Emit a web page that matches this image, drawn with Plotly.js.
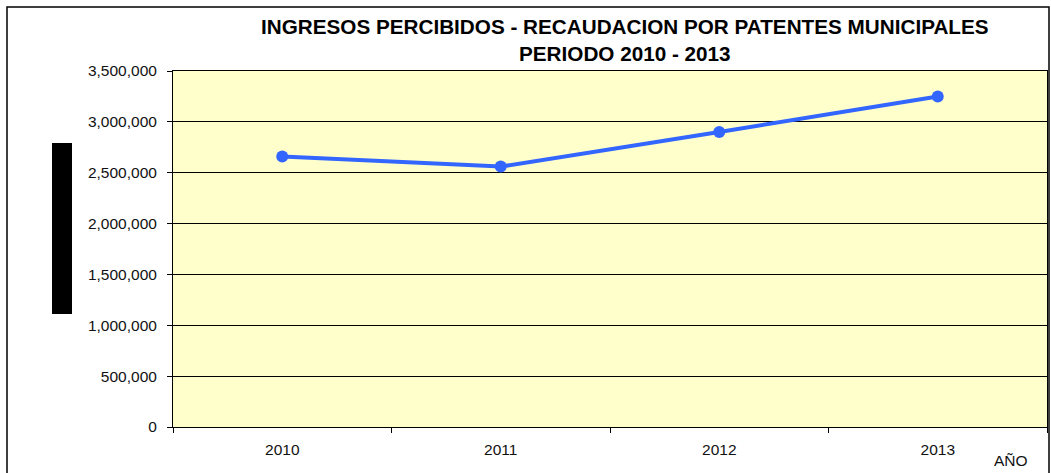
<!DOCTYPE html>
<html>
<head>
<meta charset="utf-8">
<script src="https://cdn.plot.ly/plotly-3.0.1.min.js"></script>
<style>html,body{margin:0;padding:0;background:#fff;}#chart{width:1051px;height:473px;}</style>
</head>
<body>
<div id="chart"></div>
<script>
const years = ['2010', '2011', '2012', '2013'];
const ingresos = [2660000, 2560000, 2900000, 3250000];
const yTicks = [0, 500000, 1000000, 1500000, 2000000, 2500000, 3000000, 3500000];
const yTickLabels = ['0', '500,000', '1,000,000', '1,500,000', '2,000,000', '2,500,000', '3,000,000', '3,500,000'];
const titleLine1 = 'INGRESOS PERCIBIDOS - RECAUDACION POR PATENTES MUNICIPALES';
const titleLine2 = 'PERIODO 2010 - 2013';
const xLabel = 'AÑO';

const font = 'Liberation Sans, Arial, sans-serif';
const px = v => (v - 173) / 874;
const py = v => (427 - v) / 356;

const trace = {
  type: 'scatter',
  mode: 'lines+markers',
  x: years,
  y: ingresos,
  line: {color: '#3366FF', width: 4},
  marker: {color: '#3366FF', size: 12},
  hoverinfo: 'x+y'
};

const layout = {
  width: 1051,
  height: 473,
  margin: {l: 173, r: 4, t: 71, b: 46},
  paper_bgcolor: '#FFFFFF',
  plot_bgcolor: '#FFFFCC',
  showlegend: false,
  xaxis: {
    type: 'category',
    range: [-0.5, 3.5],
    tickson: 'boundaries',
    ticks: 'outside',
    ticklen: 5,
    tickcolor: '#000',
    showline: true,
    linecolor: '#000',
    linewidth: 1,
    mirror: true,
    showgrid: false,
    ticklabelstandoff: 8,
    tickfont: {family: font, size: 15.5, color: '#111'},
    fixedrange: true
  },
  yaxis: {
    range: [0, 3500000],
    tickvals: yTicks,
    ticktext: yTickLabels,
    ticks: 'outside',
    ticklen: 5,
    tickcolor: '#000',
    showline: true,
    linecolor: '#000',
    linewidth: 1,
    mirror: true,
    showgrid: true,
    gridcolor: '#000',
    gridwidth: 1,
    zeroline: false,
    ticklabelstandoff: 7,
    tickfont: {family: font, size: 15.5, color: '#111'},
    fixedrange: true
  },
  annotations: [
    {
      text: '<b>' + titleLine1 + '</b>',
      xref: 'paper', yref: 'paper',
      x: px(625), y: py(27),
      xanchor: 'center', yanchor: 'middle', showarrow: false,
      font: {family: font, size: 20.7, color: '#000'}
    },
    {
      text: '<b>' + titleLine2 + '</b>',
      xref: 'paper', yref: 'paper',
      x: px(625), y: py(53),
      xanchor: 'center', yanchor: 'middle', showarrow: false,
      font: {family: font, size: 20.7, color: '#000'}
    },
    {
      text: xLabel,
      xref: 'paper', yref: 'paper',
      x: px(1011), y: py(461),
      xanchor: 'center', yanchor: 'middle',
      showarrow: false,
      font: {family: font, size: 15.5, color: '#111'}
    }
  ],
  shapes: [
    {
      type: 'rect', xref: 'paper', yref: 'paper',
      x0: px(7), x1: px(1049),
      y0: py(490), y1: py(7),
      line: {color: '#000', width: 1.5}, fillcolor: 'rgba(0,0,0,0)', layer: 'below'
    },
    {
      type: 'rect', xref: 'paper', yref: 'paper',
      x0: px(52), x1: px(72),
      y0: py(314), y1: py(143),
      line: {width: 0}, fillcolor: '#000'
    }
  ]
};

Plotly.newPlot('chart', [trace], layout, {displayModeBar: false, staticPlot: true});
</script>
</body>
</html>
